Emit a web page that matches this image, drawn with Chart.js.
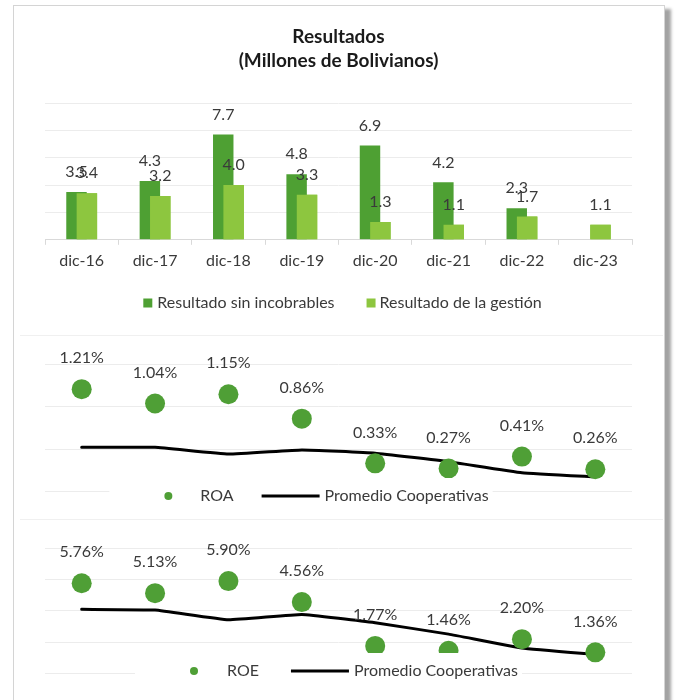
<!DOCTYPE html>
<html>
<head>
<meta charset="utf-8">
<script src="https://cdn.jsdelivr.net/npm/chart.js@4.4.1/dist/chart.umd.min.js"></script>
<style>
  body { margin: 0; background: #fff; }
  #marco { position: absolute; left: 13px; top: 5px; width: 650px; height: 730px; border: 1px solid #d4d4d4; box-shadow: 6px 4px 3px #a3a3a3; background: #fff; }
  .sep { position: absolute; left: 20px; width: 643px; height: 0; border-top: 1px solid #f0f0f0; }
  canvas { position: absolute; left: 20px; }
</style>
</head>
<body>
<div id="marco"></div>
<div class="sep" style="top:335px"></div>
<div class="sep" style="top:519px"></div>
<canvas id="chart-1" width="643" height="326" style="top:8px"></canvas>
<canvas id="chart-2" width="643" height="182" style="top:336px"></canvas>
<canvas id="chart-3" width="643" height="180" style="top:520px"></canvas>
<script>
// Datos
const categorias = ['dic-16', 'dic-17', 'dic-18', 'dic-19', 'dic-20', 'dic-21', 'dic-22', 'dic-23'];
const sinIncobrables = [3.5, 4.3, 7.7, 4.8, 6.9, 4.2, 2.3, null];
const deLaGestion = [3.4, 3.2, 4.0, 3.3, 1.3, 1.1, 1.7, 1.1];
const roa = [1.21, 1.04, 1.15, 0.86, 0.33, 0.27, 0.41, 0.26];
const roaPromedio = [0.52, 0.52, 0.44, 0.49, 0.45, 0.35, 0.22, 0.17];
const roe = [5.76, 5.13, 5.90, 4.56, 1.77, 1.46, 2.20, 1.36];
const roePromedio = [4.1, 4.05, 3.43, 3.77, 3.24, 2.52, 1.64, 1.22];

const FUENTE = 'Lato, "Open Sans", sans-serif';
const TAM = 16;
const COLOR_TEXTO = '#3a3a3a';
const VERDE_OSCURO = '#4ea033';
const VERDE_CLARO = '#8dc63f';
const VERDE_PUNTO = '#4f9f36';
const COLOR_GRILLA = '#ececec';

// redibuja un dataset encima de los demas (barra clara sobre la oscura)
function encima(indice) {
  return {
    id: 'encima',
    afterDatasetsDraw(chart) {
      chart.getDatasetMeta(indice).controller.draw();
    }
  };
}

// etiquetas de valor sobre barras y puntos
function etiquetas({ datasets, decimales, sufijo, offset }) {
  return {
    id: 'etiquetas',
    afterDatasetsDraw(chart) {
      const ctx = chart.ctx;
      ctx.save();
      ctx.font = `${TAM}px ${FUENTE}`;
      ctx.fillStyle = COLOR_TEXTO;
      ctx.textAlign = 'center';
      ctx.textBaseline = 'middle';
      datasets.forEach(i => {
        const meta = chart.getDatasetMeta(i);
        meta.data.forEach((el, j) => {
          const v = chart.data.datasets[i].data[j];
          if (v === null || v === undefined) return;
          ctx.fillText(v.toFixed(decimales) + sufijo, el.x, el.y - offset);
        });
      });
      ctx.restore();
    }
  };
}

// leyenda estilo Excel: marca + texto, centrada en centroX
function leyenda({ items, centroX, y, separacion, fondo }) {
  return {
    id: 'leyenda',
    afterDatasetsDraw(chart) {
      const ctx = chart.ctx;
      const ds = chart.data.datasets;
      ctx.save();
      ctx.font = `${TAM}px ${FUENTE}`;
      const anchos = items.map(it => it.marca + it.hueco + ctx.measureText(ds[it.ds].label).width);
      const total = anchos.reduce((a, b) => a + b, 0) + separacion * (items.length - 1);
      let x = centroX - total / 2;
      if (fondo) {
        ctx.fillStyle = '#fff';
        ctx.fillRect(x - 30, y - 18, total + 34, 36);
      }
      items.forEach((it, k) => {
        const d = ds[it.ds];
        if (it.tipo === 'cuadro') {
          ctx.fillStyle = d.backgroundColor;
          ctx.fillRect(x, y - 4.5, 9, 9);
        } else if (it.tipo === 'punto') {
          ctx.fillStyle = d.pointBackgroundColor;
          ctx.beginPath();
          ctx.arc(x + it.marca / 2, y, 4, 0, Math.PI * 2);
          ctx.fill();
        } else {
          ctx.strokeStyle = d.borderColor;
          ctx.lineWidth = 3;
          ctx.beginPath();
          ctx.moveTo(x, y);
          ctx.lineTo(x + it.marca, y);
          ctx.stroke();
        }
        ctx.fillStyle = COLOR_TEXTO;
        ctx.textAlign = 'left';
        ctx.textBaseline = 'middle';
        ctx.fillText(d.label, x + it.marca + it.hueco, y);
        x += anchos[k] + separacion;
      });
      ctx.restore();
    }
  };
}

// Grafico 1: Resultados
new Chart(document.getElementById('chart-1'), {
  type: 'bar',
  data: {
    labels: categorias,
    datasets: [
      { label: 'Resultado sin incobrables', data: sinIncobrables, backgroundColor: VERDE_OSCURO },
      { label: 'Resultado de la gestión', data: deLaGestion, backgroundColor: VERDE_CLARO }
    ]
  },
  options: {
    responsive: false,
    animation: false,
    layout: { padding: { left: 25, right: 31, top: 0, bottom: 58 } },
    datasets: { bar: { categoryPercentage: 0.283, barPercentage: 1.97 } },
    plugins: {
      legend: { display: false },
      tooltip: { enabled: false },
      title: {
        display: true,
        text: ['Resultados', '(Millones de Bolivianos)'],
        color: '#1a1a1a',
        font: { family: FUENTE, size: 19, weight: 'bold', lineHeight: 24 / 19 },
        padding: { top: 17, bottom: 30 }
      }
    },
    scales: {
      x: {
        grid: { drawOnChartArea: false, drawTicks: true, tickLength: 5, color: '#d9d9d9' },
        border: { color: '#d9d9d9' },
        ticks: { color: COLOR_TEXTO, padding: 6, font: { family: FUENTE, size: TAM } }
      },
      y: {
        min: 0,
        max: 10,
        ticks: { display: false, stepSize: 2 },
        grid: { color: COLOR_GRILLA, drawTicks: false },
        border: { display: false }
      }
    }
  },
  plugins: [
    encima(1),
    etiquetas({ datasets: [0, 1], decimales: 1, sufijo: '', offset: 20 }),
    leyenda({
      items: [
        { ds: 0, tipo: 'cuadro', marca: 9, hueco: 5 },
        { ds: 1, tipo: 'cuadro', marca: 9, hueco: 4 }
      ],
      centroX: 322.5, y: 295, separacion: 32, fondo: false
    })
  ]
});

// Graficos 2 y 3: ROA y ROE contra promedio de cooperativas
function crearIndicador(id, etiqueta, valores, promedio, yMax, paso, padding, ley) {
  return new Chart(document.getElementById(id), {
    type: 'line',
    data: {
      labels: categorias,
      datasets: [
        {
          label: etiqueta,
          data: valores,
          showLine: false,
          pointRadius: 10,
          pointBackgroundColor: VERDE_PUNTO,
          pointBorderWidth: 0,
          clip: false
        },
        {
          label: 'Promedio Cooperativas',
          data: promedio,
          borderColor: '#000',
          borderWidth: 3,
          pointRadius: 0,
          tension: 0.1,
          borderCapStyle: 'round',
          borderJoinStyle: 'round',
          clip: false
        }
      ]
    },
    options: {
      responsive: false,
      animation: false,
      layout: { padding: padding },
      plugins: {
        legend: { display: false },
        tooltip: { enabled: false }
      },
      scales: {
        x: { display: false, offset: true },
        y: {
          min: 0,
          max: yMax,
          ticks: { display: false, stepSize: paso },
          grid: { color: COLOR_GRILLA, drawTicks: false },
          border: { display: false }
        }
      }
    },
    plugins: [
      etiquetas({ datasets: [0], decimales: 2, sufijo: '%', offset: 31 }),
      leyenda(ley)
    ]
  });
}

crearIndicador('chart-2', 'ROA', roa, roaPromedio, 1.5, 0.5,
  { left: 25, right: 31, top: 28.7, bottom: 26.8 },
  {
    items: [
      { ds: 0, tipo: 'punto', marca: 58, hueco: 3 },
      { ds: 1, tipo: 'linea', marca: 58, hueco: 5 }
    ],
    centroX: 294, y: 160, separacion: 28, fondo: true
  });

crearIndicador('chart-3', 'ROE', roe, roePromedio, 8, 2,
  { left: 25, right: 31, top: 28.1, bottom: 26.3 },
  {
    items: [
      { ds: 0, tipo: 'punto', marca: 58, hueco: 4 },
      { ds: 1, tipo: 'linea', marca: 58, hueco: 5 }
    ],
    centroX: 321.5, y: 151, separacion: 32, fondo: true
  });
</script>
</body>
</html>
